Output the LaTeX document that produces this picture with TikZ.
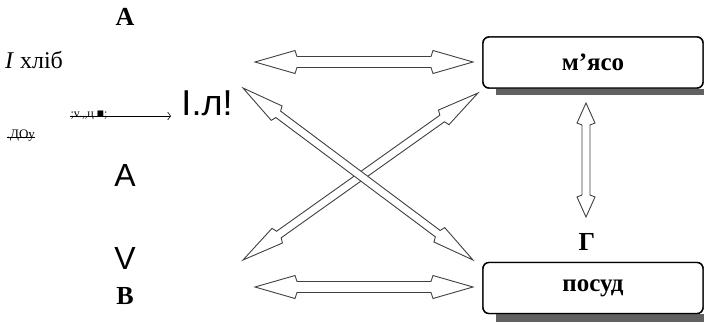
\documentclass[tikz,border=0pt]{standalone}
\usepackage{fontspec}
\setmainfont{Liberation Serif}
\setsansfont{Liberation Sans}
\usetikzlibrary{arrows.meta,calc}
% #1 from, #2 to, #3 half shaft, #4 half head, #5 head length
\newcommand\dblarr[5]{%
  \path let \p1=($(#2)-(#1)$) in \pgfextra{%
    \pgfmathsetmacro\myang{atan2(\y1,\x1)}%
    \pgfmathsetmacro\mylen{veclen(\x1,\y1)}%
    \global\let\myangG\myang \global\let\mylenG\mylen};
  \begin{scope}[shift={(#1)}, rotate=\myangG, x=1pt, y=1pt]
    \draw[dblarrow] (0,0) -- (#5,#4) -- (#5+2,#3) -- (\mylenG-#5-2,#3)
      -- (\mylenG-#5,#4) -- (\mylenG,0) -- (\mylenG-#5,-#4) -- (\mylenG-#5-2,-#3)
      -- (#5+2,-#3) -- (#5,-#4) -- cycle;
  \end{scope}}
\begin{document}
\begin{tikzpicture}[x=1pt,y=-1pt,
  box/.style={draw=black, line width=1.4pt, rounded corners=6pt, fill=white,
    minimum width=220pt, minimum height=51pt, inner sep=0pt,
    font=\fontsize{25}{25}\selectfont\bfseries},
  boxshadow/.style={fill=black!62},
  dblarrow/.style={draw=black!75, line width=0.9pt, fill=white, line join=miter},
  bigserif/.style={font=\fontsize{26}{26}\selectfont\bfseries},
  bigsans/.style={font=\fontsize{32}{32}\selectfont\sffamily},
  plain/.style={font=\fontsize{24}{24}\selectfont},
  tiny/.style={font=\fontsize{12}{12}\selectfont, inner sep=0pt},
  small/.style={font=\fontsize{13}{13}\selectfont, inner sep=0pt}
]
\useasboundingbox (0,0) rectangle (704,327);

% boxes with shadows
\node[box] (meat) at (593,62.5) {м’ясо};
\node[box] (dish) at (593,288) {посуд};
\fill[boxshadow] ([xshift=14pt]meat.south west) rectangle ([yshift=-6pt]meat.south east);
\fill[boxshadow] ([xshift=14pt]dish.south west) rectangle ([yshift=-8pt]dish.south east);
\node[box] at (meat) {м’ясо};
\node[box] at (dish) {посуд};

% left texts
\node[bigserif] (ta) at (125,17) {А};
\node[plain] (bread) at (34,60) {\textit{I} хліб};
\node[tiny] (junk) at (89,115) {;v.,,ц ■;};
\coordinate (junkend) at (171,116);
\draw[line width=0.6pt, -{Straight Barb[length=3pt,width=8pt]}] ([yshift=-1pt]junk.west) -- (junkend);
\node[font=\fontsize{36}{36}\selectfont\sffamily, inner sep=0pt] (il) at (207,103) {І.л!};
\node[small] (doy) at (21,136) {.ДОу};
\draw[line width=0.6pt] ([yshift=-1pt]doy.west) -- ([yshift=-1pt]doy.east);
\node[bigsans] (sa) at (125,175) {А};
\node[bigsans] (sv) at (125,258) {V};
\node[bigserif] (tb) at (125,296) {В};
\node[bigserif] (tg) at (587,242) {Г};

% arrow ends
\coordinate (h1a) at (255,62);
\coordinate (h1b) at (473,62);
\coordinate (h2a) at (255,287);
\coordinate (h2b) at (473,287);
\coordinate (d1a) at (243,88);
\coordinate (d1b) at (473,260);
\coordinate (d2a) at (243,260);
\coordinate (d2b) at (478,93);
\coordinate (va) at (586,103);
\coordinate (vb) at (586,217);

\dblarr{h1a}{h1b}{5.5}{11.5}{40}
\dblarr{h2a}{h2b}{5.5}{11.5}{40}
\dblarr{d2a}{d2b}{4}{9}{42}
\dblarr{d1a}{d1b}{4}{9}{42}
\dblarr{va}{vb}{4}{9}{20}
\end{tikzpicture}
\end{document}
